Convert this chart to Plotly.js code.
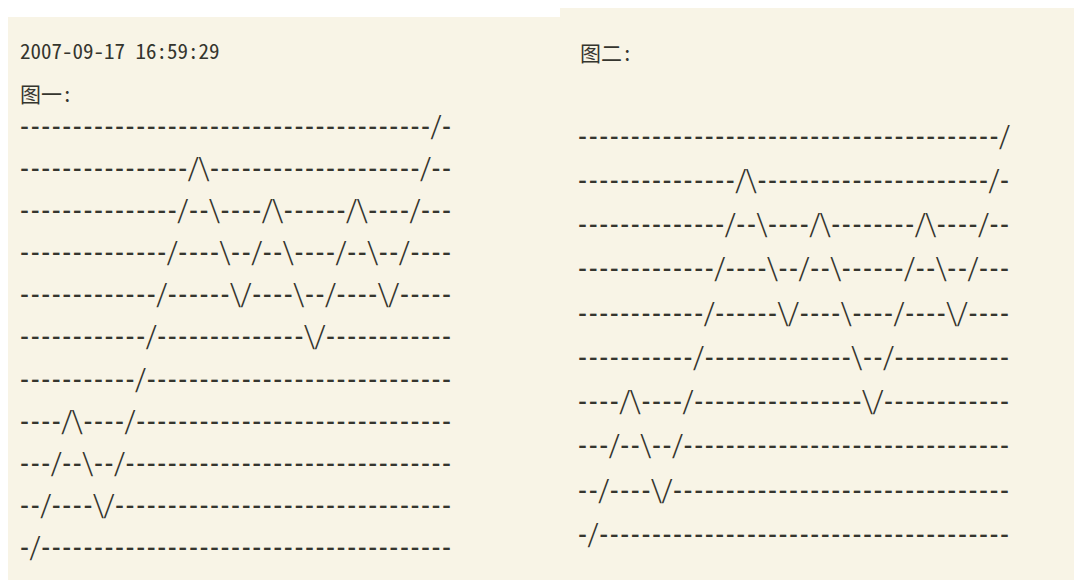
<!DOCTYPE html>
<html><head><meta charset="utf-8">
<script src="https://cdn.plot.ly/plotly-3.0.1.min.js"></script>
<style>html,body{margin:0;padding:0;background:#fff;}#chart{width:1074px;height:580px;}</style>
</head><body><div id="chart"></div>
<script>
// ---- data ----
const timestamp = "2007-09-17 16:59:29";
const fig1Label = "图一:";
const fig2Label = "图二:";
// height of the line at each column boundary (starting at the left edge of column 1)
const fig1Heights = [0,1,2,3,4,3,2,1,2,3,4,5,6,7,8,9,10,9,8,7,6,7,8,9,8,7,6,5,6,7,8,9,8,7,6,7,8,9,10,11];
const fig2Heights = [0,1,2,3,4,3,2,1,2,3,4,5,6,7,8,9,8,7,6,5,6,7,8,7,6,5,4,3,4,5,6,7,8,7,6,5,6,7,8,9,10];
const fig1Levels = 11;
const fig2Levels = 10;
const columns = 41;

// ---- styles ----
const INK = '#35352e';
const CREAM = '#f8f4e6';
const MONO = '"Noto Sans Mono CJK SC", "DejaVu Sans Mono", monospace';

function buildGrid(heights, levels, cols) {
  const grid = [];
  for (let r = 0; r < levels; r++) grid.push(new Array(cols).fill('-'));
  for (let c = 1; c < heights.length; c++) {
    const a = heights[c - 1], b = heights[c];
    if (b > a) grid[levels - 1 - a][c] = '/';
    else if (b < a) grid[levels - 1 - b][c] = '\\';
  }
  return grid;
}

function makeTraces(grid, xa, ya) {
  const dx = [], dy = [], dt = [], sx = [], sy = [], st = [];
  grid.forEach((row, r) => row.forEach((ch, c) => {
    if (ch === '-') { dx.push(c); dy.push(r); dt.push(ch); }
    else { sx.push(c); sy.push(r); st.push(ch); }
  }));
  const base = {type: 'scatter', mode: 'text', textposition: 'middle center',
    xaxis: xa, yaxis: ya, hoverinfo: 'skip', showlegend: false, cliponaxis: false};
  return [
    Object.assign({}, base, {x: dx, y: dy, text: dt, textfont: {family: MONO, size: 21, weight: 700, color: INK}}),
    Object.assign({}, base, {x: sx, y: sy, text: st, textfont: {family: MONO, size: 25, color: INK}})
  ];
}

const W = 1074, H = 580;
const px = v => v / W;
const py = v => 1 - v / H;

const grid1 = buildGrid(fig1Heights, fig1Levels, columns);
const grid2 = buildGrid(fig2Heights, fig2Levels, columns);
const data = [].concat(makeTraces(grid1, 'x', 'y'), makeTraces(grid2, 'x2', 'y2'));

const axisCommon = {visible: false, fixedrange: true, showgrid: false, zeroline: false};
const layout = {
  width: W, height: H,
  margin: {l: 0, r: 0, t: 0, b: 0, pad: 0},
  paper_bgcolor: '#ffffff',
  plot_bgcolor: 'rgba(0,0,0,0)',
  showlegend: false,
  xaxis: Object.assign({}, axisCommon, {domain: [px(19.3), px(451.85)], range: [-0.5, columns - 0.5], anchor: 'y'}),
  yaxis: Object.assign({}, axisCommon, {domain: [py(571.1), py(107.2)], range: [fig1Levels - 0.5, -0.5], anchor: 'x'}),
  xaxis2: Object.assign({}, axisCommon, {domain: [px(577.3), px(1009.85)], range: [-0.5, columns - 0.5], anchor: 'y2'}),
  yaxis2: Object.assign({}, axisCommon, {domain: [py(558.8), py(116.2)], range: [fig2Levels - 0.5, -0.5], anchor: 'x2'}),
  shapes: [
    {type: 'rect', xref: 'paper', yref: 'paper', x0: px(8), x1: px(560), y0: 0, y1: py(17), fillcolor: CREAM, line: {width: 0}, layer: 'below'},
    {type: 'rect', xref: 'paper', yref: 'paper', x0: px(560), x1: 1, y0: 0, y1: py(8), fillcolor: CREAM, line: {width: 0}, layer: 'below'}
  ],
  annotations: [
    {text: timestamp, xref: 'paper', yref: 'paper', x: px(17.5), y: py(50), xanchor: 'left', yanchor: 'middle', showarrow: false, font: {family: MONO, size: 21, color: INK}},
    {text: fig1Label, xref: 'paper', yref: 'paper', x: px(17.5), y: py(93), xanchor: 'left', yanchor: 'middle', showarrow: false, font: {family: MONO, size: 21, color: INK}},
    {text: fig2Label, xref: 'paper', yref: 'paper', x: px(577.5), y: py(52), xanchor: 'left', yanchor: 'middle', showarrow: false, font: {family: MONO, size: 21, color: INK}}
  ]
};

Plotly.newPlot('chart', data, layout, {displayModeBar: false, staticPlot: true});
</script>
</body></html>
